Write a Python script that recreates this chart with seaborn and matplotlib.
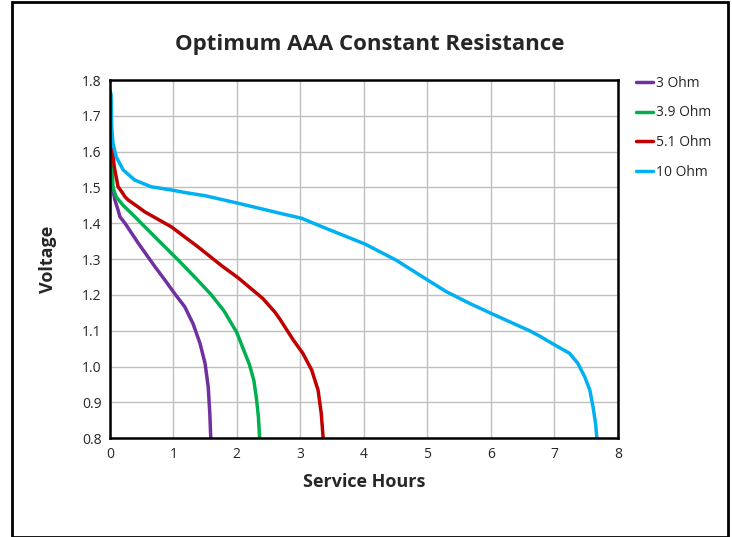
import pandas as pd
import seaborn as sns
import matplotlib.pyplot as plt
from matplotlib.patches import Rectangle

# values (hours, volts)
hours_3 = [0.0, 0.016, 0.05, 0.08, 0.13, 0.16, 0.24, 0.45, 0.71, 0.87, 1.02, 1.18, 1.31, 1.42,
           1.50, 1.55, 1.575, 1.59]
volts_3 = [1.57, 1.53, 1.493, 1.465, 1.437, 1.418, 1.40, 1.344, 1.279, 1.241, 1.204, 1.167, 1.12, 1.065,
           1.009, 0.943, 0.869, 0.80]

hours_39 = [0.0, 0.03, 0.05, 0.10, 0.21, 0.34, 0.71, 1.08, 1.39, 1.60, 1.80, 2.0, 2.2, 2.27, 2.31, 2.34, 2.36]
volts_39 = [1.62, 1.586, 1.50, 1.474, 1.450, 1.428, 1.362, 1.297, 1.240, 1.20, 1.155, 1.095, 1.005, 0.96,
            0.91, 0.86, 0.80]

hours_51 = [0.0, 0.03, 0.07, 0.13, 0.18, 0.24, 0.29, 0.45, 0.55, 0.97, 1.39, 1.63, 1.78, 2.02,
            2.41, 2.60, 2.68, 2.89, 3.04, 3.18, 3.28, 3.33, 3.36]
volts_51 = [1.66, 1.632, 1.558, 1.502, 1.49, 1.474, 1.465, 1.445, 1.432, 1.39, 1.334, 1.300, 1.279, 1.248,
            1.19, 1.152, 1.132, 1.074, 1.037, 0.99, 0.934, 0.869, 0.80]

hours_10 = [0.0, 0.02, 0.03, 0.05, 0.10, 0.21, 0.39, 0.65, 0.97, 1.18, 1.5, 2.02, 2.68, 3.02, 3.36,
            4.02, 4.51, 5.01, 5.30, 5.67, 6.01, 6.61, 6.77, 7.01, 7.24, 7.37, 7.48, 7.56, 7.61, 7.65, 7.67]
volts_10 = [1.77, 1.76, 1.67, 1.623, 1.586, 1.549, 1.521, 1.502, 1.493, 1.486, 1.477, 1.456, 1.428, 1.414, 1.389,
            1.342, 1.297, 1.241, 1.209, 1.176, 1.148, 1.10, 1.085, 1.06, 1.037, 1.009, 0.971, 0.934, 0.887,
            0.841, 0.80]

labels = ['3 Ohm', '3.9 Ohm', '5.1 Ohm', '10 Ohm']
colors = ['#7030A0', '#00B050', '#C00000', '#00B0F0']

frames = []
for lab, h, v in zip(labels, [hours_3, hours_39, hours_51, hours_10], [volts_3, volts_39, volts_51, volts_10]):
    frames.append(pd.DataFrame({'hours': h, 'volts': v, 'series': lab}))
df = pd.concat(frames, ignore_index=True)

sns.set_style('white')
plt.rcParams['font.family'] = ['Open Sans', 'DejaVu Sans']

fig = plt.figure(figsize=(7.32, 5.37), dpi=100)
ax = fig.add_axes([0.150, 0.184, 0.694, 0.667])

sns.lineplot(data=df, x='hours', y='volts', hue='series', hue_order=labels,
             palette=colors, sort=False, estimator=None, linewidth=2.5, ax=ax)
for ln in ax.lines:
    ln.set_solid_joinstyle('round')
    ln.set_solid_capstyle('round')

ax.set_xlim(0, 8)
ax.set_ylim(0.8, 1.8)
ax.set_xticks(range(0, 9))
ax.set_yticks([0.8 + 0.1 * i for i in range(11)])
ax.set_yticklabels(['%.1f' % (0.8 + 0.1 * i) for i in range(11)])
ax.grid(True, color='#bfbfbf', linewidth=1)
ax.set_axisbelow(True)
for s in ax.spines.values():
    s.set_color('black')
    s.set_linewidth(1.8)
ax.tick_params(axis='both', labelsize=10, length=0, pad=6)

ax.set_xlabel('Service Hours', fontsize=13, fontweight='bold', labelpad=8)
ax.set_ylabel('Voltage', fontsize=13, fontweight='bold', labelpad=18)
fig.text(0.505, 0.918, 'Optimum AAA Constant Resistance', ha='center', va='center',
         fontsize=16, fontweight='bold')

handles, labs = ax.get_legend_handles_labels()
ax.get_legend().remove()
fig.legend(handles, labs, loc='upper left', bbox_to_anchor=(0.852, 0.882), frameon=False,
           fontsize=10, handlelength=1.2, handletextpad=0.2, labelspacing=1.05)

fig.add_artist(Rectangle((0.017, 0.0), 0.977, 0.996, transform=fig.transFigure,
                         fill=False, edgecolor='black', linewidth=2))

fig.savefig('out.png', dpi=100)
